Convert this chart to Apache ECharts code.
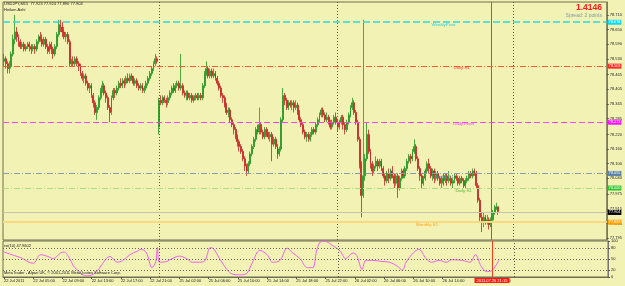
<!DOCTYPE html>
<html><head><meta charset="utf-8">
<script src="https://cdn.jsdelivr.net/npm/echarts@6/dist/echarts.min.js"></script>
<style>html,body{margin:0;padding:0;background:#f2f2b4}#c{width:625px;height:286px}</style>
</head><body><div id="c"></div>
<script>
// ---- data (USDJPY M15, one entry per bar) ----
const opens=[
78.52,78.53,78.51,78.49,78.50,78.55,78.61,78.64,78.62,78.60,
78.58,78.59,78.57,78.58,78.59,78.58,78.57,78.58,78.57,78.60,
78.62,78.61,78.59,78.61,78.58,78.56,78.59,78.57,78.55,78.58,
78.63,78.67,78.66,78.64,78.62,78.63,78.60,78.51,78.52,78.51,
78.53,78.51,78.50,78.47,78.45,78.46,78.43,78.41,78.42,78.38,
78.35,78.31,78.33,78.37,78.40,78.42,78.39,78.37,78.33,78.31,
78.37,78.40,78.39,78.41,78.43,78.42,78.44,78.43,78.45,78.44,
78.46,78.45,78.43,78.44,78.42,78.41,78.42,78.40,78.41,78.43,
78.45,78.47,78.49,78.51,78.53,78.25,78.36,78.35,78.37,78.36,
78.35,78.37,78.39,78.41,78.40,78.42,78.43,78.41,78.42,78.39,
78.38,78.39,78.37,78.38,78.36,78.37,78.38,78.37,78.38,78.37,
78.42,78.47,78.49,78.46,78.48,78.46,78.47,78.45,78.43,78.41,
78.38,78.37,78.34,78.31,78.32,78.28,78.26,78.24,78.21,78.19,
78.17,78.15,78.12,78.09,78.07,78.10,78.14,78.17,78.20,78.24,
78.23,78.26,78.23,78.21,78.24,78.22,78.21,78.22,78.18,78.20,
78.17,78.14,78.16,78.28,78.38,78.36,78.33,78.35,78.34,78.35,
78.33,78.34,78.31,78.28,78.26,78.23,78.21,78.22,78.20,78.22,
78.24,78.23,78.26,78.28,78.30,78.32,78.30,78.28,78.29,78.27,
78.25,78.27,78.29,78.27,78.25,78.27,78.29,78.26,78.24,78.27,
78.30,78.33,78.35,78.31,78.27,78.20,78.10,77.97,78.05,78.12,
78.22,78.15,78.10,78.07,78.09,78.11,78.09,78.11,78.08,78.05,
78.03,78.06,78.04,78.07,78.05,78.02,78.05,78.00,78.04,78.07,
78.05,78.08,78.11,78.13,78.12,78.15,78.17,78.12,78.08,78.05,
78.02,78.04,78.07,78.10,78.08,78.05,78.07,78.04,78.06,78.04,
78.02,78.04,78.03,78.05,78.03,78.04,78.02,78.03,78.05,78.04,
78.02,78.04,78.03,78.01,78.03,78.04,78.06,78.05,78.07,78.06,
78.01,77.95,77.88,77.86,77.88,77.86,77.87,77.85,77.87,77.90,
77.92,77.923];
const closes=[
78.53,78.51,78.49,78.50,78.55,78.61,78.64,78.62,78.60,78.58,
78.59,78.57,78.58,78.59,78.58,78.57,78.58,78.57,78.60,78.62,
78.61,78.59,78.61,78.58,78.56,78.59,78.57,78.55,78.58,78.63,
78.67,78.66,78.64,78.62,78.63,78.60,78.51,78.52,78.51,78.53,
78.51,78.50,78.47,78.45,78.46,78.43,78.41,78.42,78.38,78.35,
78.31,78.33,78.37,78.40,78.42,78.39,78.37,78.33,78.31,78.37,
78.40,78.39,78.41,78.43,78.42,78.44,78.43,78.45,78.44,78.46,
78.45,78.43,78.44,78.42,78.41,78.42,78.40,78.41,78.43,78.45,
78.47,78.49,78.51,78.53,78.52,78.36,78.35,78.37,78.36,78.35,
78.37,78.39,78.41,78.40,78.42,78.43,78.41,78.42,78.39,78.38,
78.39,78.37,78.38,78.36,78.37,78.38,78.37,78.38,78.37,78.42,
78.47,78.49,78.46,78.48,78.46,78.47,78.45,78.43,78.41,78.38,
78.37,78.34,78.31,78.32,78.28,78.26,78.24,78.21,78.19,78.17,
78.15,78.12,78.09,78.07,78.10,78.14,78.17,78.20,78.24,78.23,
78.26,78.23,78.21,78.24,78.22,78.21,78.22,78.18,78.20,78.17,
78.14,78.16,78.28,78.38,78.36,78.33,78.35,78.34,78.35,78.33,
78.34,78.31,78.28,78.26,78.23,78.21,78.22,78.20,78.22,78.24,
78.23,78.26,78.28,78.30,78.32,78.30,78.28,78.29,78.27,78.25,
78.27,78.29,78.27,78.25,78.27,78.29,78.26,78.24,78.27,78.30,
78.33,78.35,78.31,78.27,78.20,78.10,77.97,78.05,78.12,78.22,
78.15,78.10,78.07,78.09,78.11,78.09,78.11,78.08,78.05,78.03,
78.06,78.04,78.07,78.05,78.02,78.05,78.00,78.04,78.07,78.05,
78.08,78.11,78.13,78.12,78.15,78.17,78.12,78.08,78.05,78.02,
78.04,78.07,78.10,78.08,78.05,78.07,78.04,78.06,78.04,78.02,
78.04,78.03,78.05,78.03,78.04,78.02,78.03,78.05,78.04,78.02,
78.04,78.03,78.01,78.03,78.04,78.06,78.05,78.07,78.06,78.01,
77.95,77.88,77.86,77.88,77.86,77.87,77.85,77.87,77.90,77.92,
77.923,77.904];
const lows=[
78.50,78.49,78.47,78.47,78.49,78.54,78.59,78.60,78.58,78.57,
78.57,78.56,78.56,78.57,78.56,78.55,78.56,78.55,78.56,78.59,
78.60,78.58,78.58,78.57,78.55,78.55,78.55,78.53,78.54,78.57,
78.62,78.64,78.62,78.61,78.60,78.59,78.50,78.50,78.50,78.50,
78.50,78.48,78.46,78.44,78.43,78.42,78.40,78.39,78.37,78.33,
78.30,78.28,78.32,78.36,78.39,78.38,78.35,78.32,78.27,78.30,
78.36,78.37,78.38,78.40,78.41,78.41,78.41,78.42,78.43,78.43,
78.44,78.42,78.42,78.41,78.40,78.40,78.39,78.39,78.40,78.42,
78.44,78.46,78.48,78.50,78.51,78.22,78.34,78.34,78.35,78.33,
78.34,78.36,78.38,78.39,78.39,78.41,78.40,78.40,78.38,78.37,
78.36,78.36,78.36,78.35,78.35,78.36,78.36,78.36,78.36,78.36,
78.41,78.46,78.45,78.45,78.45,78.45,78.44,78.42,78.40,78.37,
78.35,78.33,78.30,78.29,78.27,78.25,78.22,78.20,78.17,78.15,
78.14,78.11,78.07,78.05,78.06,78.09,78.13,78.16,78.19,78.22,
78.22,78.22,78.20,78.20,78.21,78.20,78.19,78.11,78.17,78.16,
78.12,78.13,78.15,78.27,78.34,78.32,78.32,78.33,78.32,78.31,
78.32,78.30,78.27,78.25,78.22,78.20,78.19,78.19,78.19,78.21,
78.22,78.22,78.25,78.27,78.29,78.29,78.27,78.27,78.26,78.24,
78.24,78.26,78.26,78.23,78.24,78.26,78.24,78.22,78.23,78.26,
78.29,78.32,78.30,78.26,78.19,78.08,77.88,77.96,78.03,78.11,
78.14,78.08,78.05,78.06,78.08,78.07,78.08,78.07,78.04,78.01,
78.02,78.02,78.03,78.04,78.00,78.01,77.96,77.99,78.03,78.04,
78.04,78.07,78.10,78.10,78.11,78.14,78.11,78.07,78.03,78.00,
78.01,78.03,78.06,78.06,78.04,78.03,78.02,78.03,78.03,78.01,
78.00,78.01,78.02,78.01,78.02,78.01,78.00,78.02,78.03,78.01,
78.01,78.02,78.00,78.00,78.02,78.03,78.04,78.04,78.05,78.00,
77.94,77.86,77.82,77.84,77.85,77.85,77.83,77.84,77.86,77.89,
77.91,77.890];
const highs=[
78.55,78.54,78.52,78.52,78.56,78.63,78.71,78.66,78.63,78.61,
78.60,78.60,78.59,78.60,78.60,78.59,78.59,78.59,78.61,78.63,
78.64,78.63,78.62,78.62,78.59,78.60,78.60,78.58,78.59,78.64,
78.69,78.69,78.68,78.66,78.64,78.64,78.61,78.53,78.54,78.54,
78.54,78.52,78.51,78.48,78.47,78.47,78.44,78.43,78.43,78.39,
78.36,78.34,78.38,78.41,78.44,78.43,78.40,78.38,78.34,78.38,
78.41,78.41,78.42,78.44,78.45,78.45,78.45,78.46,78.47,78.47,
78.47,78.46,78.45,78.45,78.43,78.43,78.43,78.42,78.44,78.46,
78.48,78.50,78.52,78.55,78.54,78.37,78.38,78.38,78.38,78.37,
78.38,78.40,78.42,78.43,78.43,78.44,78.44,78.55,78.43,78.40,
78.40,78.40,78.39,78.39,78.38,78.39,78.39,78.39,78.39,78.43,
78.48,78.52,78.50,78.49,78.49,78.49,78.48,78.46,78.44,78.42,
78.39,78.38,78.35,78.33,78.33,78.29,78.27,78.25,78.22,78.20,
78.18,78.16,78.13,78.10,78.11,78.15,78.18,78.21,78.25,78.26,
78.33,78.27,78.24,78.25,78.25,78.23,78.23,78.23,78.21,78.21,
78.18,78.17,78.29,78.41,78.39,78.37,78.36,78.36,78.36,78.36,
78.36,78.35,78.32,78.29,78.27,78.24,78.23,78.23,78.23,78.25,
78.25,78.27,78.29,78.31,78.33,78.33,78.31,78.31,78.30,78.28,
78.28,78.30,78.31,78.28,78.28,78.30,78.30,78.27,78.28,78.31,
78.34,78.37,78.36,78.32,78.28,78.21,78.11,78.69,78.14,78.27,
78.24,78.16,78.11,78.10,78.13,78.12,78.12,78.12,78.09,78.06,
78.07,78.08,78.08,78.09,78.06,78.06,78.06,78.05,78.08,78.08,
78.09,78.12,78.14,78.14,78.16,78.20,78.18,78.13,78.09,78.06,
78.05,78.08,78.11,78.12,78.09,78.08,78.08,78.07,78.07,78.05,
78.05,78.06,78.06,78.06,78.07,78.05,78.04,78.06,78.06,78.05,
78.05,78.05,78.04,78.04,78.05,78.07,78.07,78.08,78.08,78.07,
78.02,77.96,77.90,77.90,77.89,77.89,77.88,77.88,77.91,77.93,
77.94,77.924];

// RSI(10) read at selected bars
const rsiBars=[0,3,9,16,20,24,27,31,33,36,38,42,45,49,52,56,58,62,65,69,73,75,78,81,83,84,85,89,92,96,100,103,107,110,113,115,118,122,125,129,133,136,140,144,147,151,155,158,162,166,169,171,173,175,180,184,187,191,193,196,198,202,207,211,215,218,220,224,227,231,234,238,242,245,251,255,258,261,264,267,269,271];
const rsiValues=[70,64,54,38,62,57,51,67,69,51,31,11,3,8,23,51,57,41,46,62,72,77,67,26,41,82,41,43,51,58,51,41,41,46,82,77,51,21,8,6,11,41,74,62,41,46,80,67,51,26,26,72,97,100,87,72,51,67,60,21,46,46,43,41,31,19,41,67,77,51,41,46,41,48,46,41,62,31,15,18,31,47.96];
const rsiLevels=[20,50,80];
const rsiTicks=[0,20,50,80,100];

// price levels (pivot lines) and their names
const levelNames=['WeeklyPivot','Daily R1','Daily Pivot','Weekly S1','Daily S1','Bid','Monthly S1'];
const levelValues=[78.678,78.503,78.273,78.055,78.000,77.904,77.859];

// axis ticks
const priceTicks=[78.710,78.650,78.590,78.530,78.465,78.405,78.345,78.285,78.220,78.160,78.100,78.040,77.975,77.915,77.855,77.795];
const timeTickBars=[0,16,32,48,64,80,96,112,128,144,160,176,192,208,224,240,272];
const timeTickLabels=['22 Jul 2011','22 Jul 05:00','22 Jul 09:00','22 Jul 13:00','22 Jul 17:00','22 Jul 21:00','25 Jul 02:00','25 Jul 06:00','25 Jul 10:00','25 Jul 14:00','25 Jul 18:00','25 Jul 22:00','26 Jul 02:00','26 Jul 06:00','26 Jul 10:00','26 Jul 14:00','22:00'];
const separatorBars=[85,183,279];
const markerBar=267;
const markerLabel='2011.07.26 21:15';
const symbolName='USDJPY,M15';
const indicatorName='Heiken Ashi';
const bigValue='1.4146';
const spreadText='Spread: 2 points';
const rsiTitle='rsi(10) 47.9602';
const footer='MetaTrader - Alpari UK, \u00a9 2001-2011 MetaQuotes Software Corp.';
const slotCount=331;

// ---- styles ----
const FF='"Liberation Sans", Arial, sans-serif';
const levelStyles=[
 {line:'#22dde8',type:[7,3],w:1.5,box:'#10d8f0',txt:'#30c8d8',bar:241},
 {line:'#ff5a3c',type:[6,2,1,2],w:1,box:'#ff2a20',txt:'#ff3a30',bar:251},
 {line:'#ff44ff',type:[6,3],w:1,box:'#ff10ff',txt:'#ff30ff',bar:252},
 {line:'#8a9cb4',type:[6,2,1,2],w:1,box:'#5a80a8',txt:'#6a88a8',bar:241},
 {line:'#b0dc80',type:[6,2,1,2],w:1,box:'#30c830',txt:'#58b030',bar:252},
 {line:'#c4c4a8',type:'solid',w:1,box:'#000000',txt:null,bar:0},
 {line:'#ffd880',type:'solid',w:2,box:'#ffa000',txt:'#ffa020',bar:232}
];

const categories=Array.from({length:slotCount},(_,i)=>String(i));
const candleData=opens.map((o,i)=>[o,closes[i],lows[i],highs[i]]);
const rsiData=rsiBars.map((b,i)=>[b,rsiValues[i]]);
const tickMap={};timeTickBars.forEach((b,i)=>tickMap[b]=timeTickLabels[i]);
const last=opens.length-1;
const header=symbolName+'  '+opens[last].toFixed(3)+' '+highs[last].toFixed(3)+' '+lows[last].toFixed(3)+' '+closes[last].toFixed(3);

const vLines=(withLabel)=>separatorBars.map(b=>({xAxis:b,lineStyle:{color:'#5a5a4a',type:[1,2],width:1,opacity:1},label:{show:false}}))
 .concat([{xAxis:markerBar,lineStyle:{color:'#ff3a1a',type:'solid',width:1,opacity:1},
   label:withLabel?{show:true,position:'start',distance:1,formatter:markerLabel,color:'#fff',backgroundColor:'#ff1a10',padding:[1,2,0,2],fontSize:4,fontFamily:FF}:{show:false}}]);

const levelLines=levelValues.map((v,i)=>({name:levelNames[i],yAxis:v,
 lineStyle:{color:levelStyles[i].line,type:levelStyles[i].type,width:levelStyles[i].w,opacity:1},
 label:{show:true,position:'end',distance:1,formatter:v.toFixed(3),color:'#fff',backgroundColor:levelStyles[i].box,padding:[1,1,0,1],fontSize:3.8,fontFamily:FF}}));

const levelTexts=levelValues.map((v,i)=>({name:levelNames[i],v,i})).filter(d=>levelStyles[d.i].txt)
 .map(d=>({name:d.name,coord:[levelStyles[d.i].bar,d.v],
   label:{show:true,position:'bottom',distance:0,formatter:'{b}',color:levelStyles[d.i].txt,fontSize:4.4,fontFamily:FF}}));

const smallText=(txt,left,top,extra)=>Object.assign({text:txt,left:left,top:top,padding:0,
  textStyle:Object.assign({fontSize:4,fontWeight:'normal',color:'#1a1a1a',fontFamily:FF},extra||{})});

const chart=echarts.init(document.getElementById('c'),null,{renderer:'canvas'});
chart.setOption({
 backgroundColor:'#f2f2b4',
 animation:false,
 title:[
  smallText(header,4,2),
  smallText(indicatorName,4,8),
  {text:bigValue,right:23,top:3,padding:0,textStyle:{fontSize:8.5,fontWeight:'bold',color:'#ff1a1a',fontFamily:FF}},
  {text:spreadText,right:23,top:13,padding:0,textStyle:{fontSize:5,fontWeight:'normal',color:'#7c98a8',fontFamily:FF}},
  smallText(rsiTitle,4,243.5),
  smallText(footer,4,270.5)
 ],
 grid:[
  {left:3,right:17,top:2,height:238,show:true,borderColor:'#6e6e50',borderWidth:1},
  {left:3,right:17,top:241,height:36,show:true,borderColor:'#6e6e50',borderWidth:1}
 ],
 xAxis:[
  {type:'category',gridIndex:0,data:categories,boundaryGap:true,axisLine:{show:false},axisTick:{show:false},axisLabel:{show:false},splitLine:{show:false}},
  {type:'category',gridIndex:1,data:categories,boundaryGap:true,
   axisLine:{show:true,lineStyle:{color:'#6e6e50'}},
   axisTick:{show:true,length:2,interval:(i)=>tickMap[i]!==undefined,alignWithLabel:true,lineStyle:{color:'#555'}},
   axisLabel:{show:true,interval:(i)=>tickMap[i]!==undefined,formatter:(val,i)=>tickMap[i]||'',align:'left',margin:2,fontSize:4,color:'#222',fontFamily:FF},
   splitLine:{show:false}}
 ],
 yAxis:[
  {type:'value',gridIndex:0,position:'right',min:77.787,max:78.763,
   axisLine:{show:true,lineStyle:{color:'#777'}},
   axisTick:{show:true,length:2,customValues:priceTicks,lineStyle:{color:'#555'}},
   axisLabel:{customValues:priceTicks,formatter:(v)=>v.toFixed(3),margin:3,fontSize:4,color:'#222',fontFamily:FF},
   splitLine:{show:false}},
  {type:'value',gridIndex:1,position:'right',min:0,max:100,
   axisLine:{show:true,lineStyle:{color:'#777'}},
   axisTick:{show:true,length:2,customValues:rsiTicks,lineStyle:{color:'#555'}},
   axisLabel:{customValues:rsiTicks,margin:3,fontSize:4,color:'#222',fontFamily:FF},
   splitLine:{show:false}}
 ],
 series:[
  {type:'line',xAxisIndex:0,yAxisIndex:0,data:closes.map(()=>null),symbol:'none',lineStyle:{opacity:0},z:1,
   markLine:{silent:true,symbol:['none','none'],animation:false,data:vLines(false)}},
  {type:'candlestick',xAxisIndex:0,yAxisIndex:0,data:candleData,barWidth:1.4,z:2,
   itemStyle:{color:'#22a022',color0:'#cc2424',borderColor:'#1f961f',borderColor0:'#c42222',borderWidth:0.8},
   markLine:{silent:true,symbol:['none','none'],animation:false,data:levelLines},
   markPoint:{silent:true,symbol:'circle',symbolSize:1,itemStyle:{color:'rgba(0,0,0,0)'},animation:false,data:levelTexts}},
  {type:'line',xAxisIndex:1,yAxisIndex:1,data:rsiData,smooth:0.35,symbol:'none',
   lineStyle:{color:'#f060f0',width:1},
   markLine:{silent:true,symbol:['none','none'],animation:false,
    data:rsiLevels.map(v=>({yAxis:v,lineStyle:{color:'#666',type:[1,2],width:1},label:{show:false}})).concat(vLines(true))}}
 ]
});
</script>
</body></html>
